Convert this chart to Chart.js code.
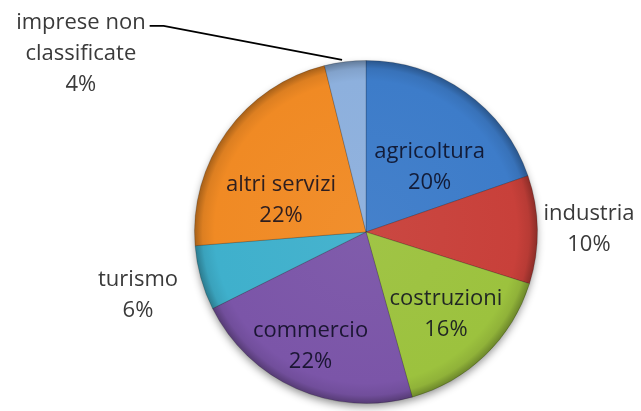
<!DOCTYPE html>
<html>
<head>
<meta charset="utf-8">
<script src="https://cdn.jsdelivr.net/npm/chart.js@4"></script>
<style>
  html, body { margin: 0; padding: 0; background: #fff; }
  #wrap { width: 641px; height: 411px; }
</style>
</head>
<body>
<div id="wrap"><canvas id="chart" width="641" height="411"></canvas></div>
<script>
const labels = ['agricoltura', 'industria', 'costruzioni', 'commercio', 'turismo', 'altri servizi', 'imprese non classificate'];
const values = [19.7, 10.2, 15.8, 22.0, 6.1, 22.4, 3.9];
const colors = ['#3d7cc9', '#c8403a', '#9cc23e', '#7b55a8', '#3fb0cc', '#f08a24', '#8db0dd'];

// label text lines and placement (radius factor, angle shift in degrees from slice middle)
const labelLines = [['agricoltura'], ['industria'], ['costruzioni'], ['commercio'], ['turismo'], ['altri servizi'], ['imprese non', 'classificate']];
const labelPlace = [
  { r: 0.53, a: 9 },
  { r: 1.30, a: 0 },
  { r: 0.67, a: 0 },
  { r: 0.74, a: 2 },
  { r: 1.38, a: 0 },
  { r: 0.53, a: -15 },
  { r: 1.96, a: -51 }
];

const ctx = document.getElementById('chart');

function shade(hex, f) {
  const n = parseInt(hex.slice(1), 16);
  let r = (n >> 16) & 255, g = (n >> 8) & 255, b = n & 255;
  if (f >= 0) { r += (255 - r) * f; g += (255 - g) * f; b += (255 - b) * f; }
  else { r *= 1 + f; g *= 1 + f; b *= 1 + f; }
  return 'rgb(' + Math.round(r) + ',' + Math.round(g) + ',' + Math.round(b) + ')';
}

function sliceFill(context) {
  const chart = context.chart;
  const area = chart.chartArea;
  if (!area) return colors[context.dataIndex];
  const base = colors[context.dataIndex];
  const cx = (area.left + area.right) / 2, cy = (area.top + area.bottom) / 2;
  const rad = Math.min(area.right - area.left, area.bottom - area.top) / 2;
  const g = chart.ctx.createRadialGradient(cx, cy, 0, cx, cy, rad);
  g.addColorStop(0, shade(base, 0.04));
  g.addColorStop(0.88, base);
  g.addColorStop(0.95, shade(base, -0.08));
  g.addColorStop(1, shade(base, -0.32));
  return g;
}

const shadowPlugin = {
  id: 'pieShadow',
  beforeDatasetsDraw(chart) {
    const arc = chart.getDatasetMeta(0).data[0];
    if (!arc) return;
    const c = chart.ctx;
    c.save();
    c.shadowColor = 'rgba(0,0,0,0.45)';
    c.shadowBlur = 8;
    c.shadowOffsetY = 4;
    c.fillStyle = '#888';
    c.beginPath();
    c.arc(arc.x, arc.y, arc.outerRadius - 1, 0, Math.PI * 2);
    c.fill();
    c.restore();
  }
};

const labelPlugin = {
  id: 'sliceLabels',
  afterDatasetsDraw(chart) {
    const c = chart.ctx;
    const arcs = chart.getDatasetMeta(0).data;
    const total = values.reduce((s, v) => s + v, 0);
    c.save();
    c.font = '22px "Open Sans"';
    c.textAlign = 'center';
    c.textBaseline = 'middle';
    arcs.forEach((arc, i) => {
      const mid = (arc.startAngle + arc.endAngle) / 2 + labelPlace[i].a * Math.PI / 180;
      const rr = arc.outerRadius * labelPlace[i].r;
      const x = arc.x + Math.cos(mid) * rr;
      const y = arc.y + Math.sin(mid) * rr;
      const lines = labelLines[i].concat([Math.round(values[i] / total * 100) + '%']);
      const outside = labelPlace[i].r > 1;
      c.fillStyle = outside ? '#3a3a3a' : 'rgba(10,10,30,0.85)';
      const lh = 31;
      const top = y - (lines.length - 1) * lh / 2;
      lines.forEach((t, k) => c.fillText(t, x, top + k * lh));
      if (i === 6) {
        // leader line to the small slice
        const m = (arc.startAngle + arc.endAngle) / 2;
        const ex = arc.x + Math.cos(m) * arc.outerRadius;
        const ey = arc.y + Math.sin(m) * arc.outerRadius;
        const w = c.measureText(lines[0]).width;
        const sx = x + w / 2 + 4;
        const sy = top + 3;
        c.strokeStyle = '#000';
        c.lineWidth = 1.8;
        c.beginPath();
        c.moveTo(sx, sy);
        c.lineTo(sx + 14, sy);
        c.lineTo(ex - 3, ey - 2);
        c.stroke();
      }
    });
    c.restore();
  }
};

new Chart(ctx, {
  type: 'pie',
  data: {
    labels: labels,
    datasets: [{
      data: values,
      backgroundColor: sliceFill,
      borderColor: 'rgba(0,0,0,0.18)',
      borderWidth: 1
    }]
  },
  options: {
    responsive: false,
    animation: false,
    layout: { padding: { top: 60, bottom: 7, left: 194, right: 103 } },
    plugins: {
      legend: { display: false },
      tooltip: { enabled: false }
    }
  },
  plugins: [shadowPlugin, labelPlugin]
});
</script>
</body>
</html>
